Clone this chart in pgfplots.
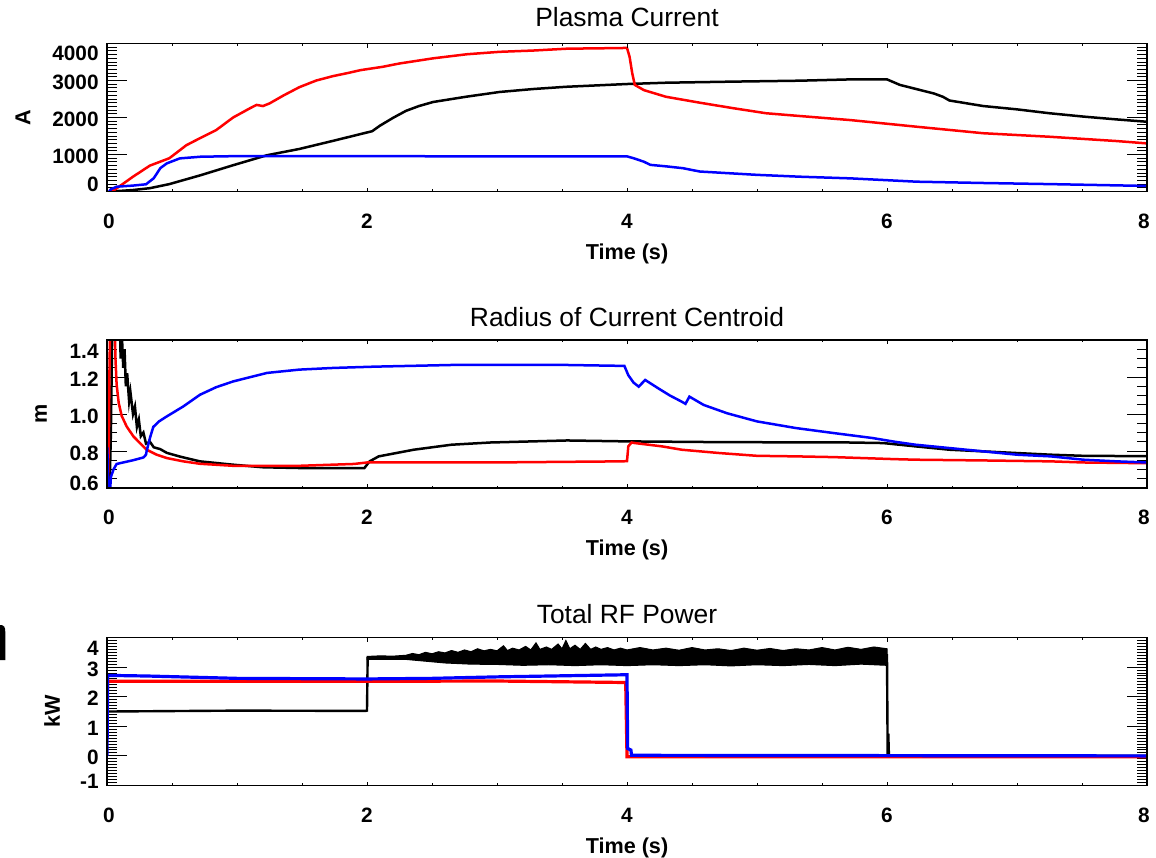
\documentclass[border=0pt]{standalone}
\usepackage{pgfplots}
\pgfplotsset{compat=1.18}
\usepackage{fontspec}
\setmainfont{Liberation Sans}
\newcommand\ticfont{\fontsize{10.4}{12}\selectfont\bfseries}
\newcommand\labfont{\fontsize{10.8}{13}\selectfont\bfseries}
\newcommand\titfont{\fontsize{13.2}{15}\selectfont}

\pgfplotsset{
 idlbase/.style={scale only axis, width=520pt, height=74pt, xmin=0, xmax=8,
   anchor=north west, tick align=inside,
   axis line style={line width=0.6pt},
   every tick/.append style={line width=0.5pt, black},
   /pgf/number format/assume math mode=true,
   /pgf/number format/1000 sep={}},
 idly/.style={idlbase, xtick=\empty, major tick length=10pt, minor tick length=5pt,
   yticklabel pos=left,
   yticklabel style={anchor=east, inner sep=0pt, xshift=-4pt, font=\ticfont},
   every axis y label/.style={at={(axis description cs:#1,0.5)}, rotate=90, anchor=center, font=\labfont},
   every axis title/.style={at={(axis description cs:0.5,1)}, anchor=base, font=\titfont}},
 idlx/.style={idlbase, ytick=\empty, ymin=0, ymax=1, xtick={0,2,4,6,8}, minor x tick num=3,
   major tick length=2pt, minor tick length=1.2pt, xticklabel pos=bottom,
   xticklabel style={anchor=north, inner sep=0pt, yshift=-11pt, font=\ticfont},
   xticklabel={\ifcase\ticknum\relax\def\xs{2pt}\or\def\xs{0pt}\or\def\xs{0pt}\or\def\xs{0pt}\or\def\xs{-3pt}\else\def\xs{0pt}\fi\makebox[0pt]{\hspace*{\xs}\pgfmathprintnumber{\tick}}},
   xlabel={Time (s)},
   every axis x label/.style={at={(axis description cs:0.5,0)}, anchor=center, yshift=-31pt, font=\labfont}},
}

\begin{document}
\begin{tikzpicture}
\useasboundingbox (0pt,0pt) rectangle (578pt,-428.5pt);
\fill[white] (0pt,0pt) rectangle (578pt,-428.5pt);

% ---------------- Panel 1: Plasma Current ----------------
\begin{axis}[idly=-0.0808, at={(53.5pt,-21.75pt)},
  ymin=0, ymax=4000, ytick={0,1000,2000,3000,4000}, minor y tick num=9,
  yticklabel={\ifcase\ticknum\relax\def\ys{0pt}\or\def\ys{-4.25pt}\or\def\ys{-4.25pt}\or\def\ys{-4.25pt}\or\def\ys{-8.5pt}\else\def\ys{-4.25pt}\fi\smash{\raisebox{\ys}{\pgfmathprintnumber{\tick}}}},
  ylabel={A}, title={Plasma Current}, title style={yshift=8.4pt}]
\addplot[black, line width=1.25pt] coordinates {
(0,-50) (0.03,0) (0.2,40) (0.33,90) (0.48,200) (0.72,440) (0.97,710) (1.23,980)
(1.48,1150) (1.74,1370) (2.04,1630) (2.1,1780) (2.2,1990) (2.3,2180) (2.4,2310)
(2.51,2420) (2.76,2560) (3.02,2690) (3.28,2770) (3.53,2830) (4.0,2905) (4.3,2940)
(4.82,2970) (5.33,2995) (5.72,3030) (6.0,3030) (6.1,2880) (6.36,2650) (6.43,2560)
(6.48,2460) (6.74,2310) (7.0,2220) (7.25,2115) (7.51,2025) (7.76,1950) (8.0,1885)};
\addplot[red, line width=1.25pt] coordinates {
(0,-60) (0.04,0) (0.1,150) (0.2,400) (0.33,700) (0.48,900) (0.61,1250) (0.72,1450)
(0.84,1660) (0.97,2000) (1.1,2250) (1.15,2340) (1.2,2310) (1.25,2380) (1.36,2600)
(1.48,2820) (1.61,3000) (1.74,3120) (1.85,3200) (1.95,3280) (2.12,3370) (2.25,3460)
(2.51,3600) (2.77,3710) (3.02,3775) (3.28,3810) (3.54,3860) (3.79,3870) (4.0,3880)
(4.02,3640) (4.04,3200) (4.06,2880) (4.13,2740) (4.3,2560) (4.56,2400) (4.82,2250)
(5.07,2115) (5.33,2040) (5.72,1930) (6.23,1750) (6.74,1575) (7.25,1480) (7.76,1365) (8.0,1300)};
\addplot[blue, line width=1.25pt] coordinates {
(0,-80) (0.03,60) (0.075,130) (0.2,160) (0.3,195) (0.36,360) (0.41,630) (0.46,760)
(0.56,895) (0.72,940) (0.97,955) (2,955) (3,950) (4.0,950) (4.05,900) (4.13,805)
(4.18,720) (4.3,680) (4.43,630) (4.56,540) (5.0,450) (5.33,400) (5.72,355) (6.23,265)
(6.74,230) (7.25,200) (8.0,150)};
\end{axis}
\begin{axis}[idlx, at={(53.5pt,-21.75pt)}]
\end{axis}

% ---------------- Panel 2: Radius ----------------
\begin{axis}[idly=-0.0635, at={(53.5pt,-170pt)},
  ymin=0.6, ymax=1.4, ytick={0.6,0.8,1.0,1.2,1.4}, minor y tick num=3,
  /pgf/number format/fixed, /pgf/number format/fixed zerofill, /pgf/number format/precision=1,
  yticklabel={\ifcase\ticknum\relax\def\ys{-1.1pt}\or\def\ys{-4.75pt}\or\def\ys{-4.75pt}\or\def\ys{-4.75pt}\or\def\ys{-9.25pt}\else\def\ys{-4.75pt}\fi\smash{\raisebox{\ys}{\pgfmathprintnumber{\tick}}}},
  ylabel={m}, title={Radius of Current Centroid}, title style={yshift=7pt}]
\addplot[black, line width=1.25pt] coordinates {
(0,0.6) (0.02,0.6) (0.03,0.9) (0.04,1.45) (0.1,1.45) (0.105,1.3) (0.115,1.42)
(0.125,1.25) (0.135,1.35) (0.145,1.15) (0.155,1.22) (0.17,1.07) (0.18,1.12)
(0.2,1.0) (0.215,1.04) (0.23,0.93) (0.245,0.97) (0.26,0.88) (0.28,0.9) (0.3,0.84)
(0.33,0.85) (0.36,0.82) (0.41,0.81) (0.46,0.79) (0.56,0.77) (0.715,0.744) (0.97,0.726)
(1.2,0.712) (1.48,0.708) (1.98,0.708) (2.02,0.744) (2.09,0.771) (2.36,0.807)
(2.65,0.834) (2.95,0.846) (3.54,0.857) (4.0,0.852) (4.71,0.848) (5.71,0.846)
(5.97,0.843) (6.22,0.825) (6.48,0.807) (6.74,0.798) (7.0,0.789) (7.26,0.78)
(7.51,0.774) (8.0,0.772)};
\addplot[red, line width=1.25pt] coordinates {
(0,0.78) (0.008,0.62) (0.015,0.9) (0.02,1.3) (0.025,1.45) (0.06,1.45) (0.065,1.3)
(0.074,1.16) (0.09,1.06) (0.113,0.99) (0.151,0.933) (0.203,0.879) (0.254,0.843)
(0.305,0.807) (0.382,0.78) (0.46,0.762) (0.587,0.744) (0.715,0.731) (0.97,0.72)
(1.48,0.72) (1.9,0.73) (2.0,0.738) (2.95,0.738) (3.95,0.744) (4.0,0.745) (4.01,0.825)
(4.035,0.846) (4.06,0.843) (4.27,0.825) (4.42,0.807) (4.71,0.789) (5.0,0.774)
(5.3,0.771) (5.59,0.767) (6.06,0.756) (6.22,0.753) (6.74,0.749) (7.26,0.744)
(7.51,0.738) (8.0,0.734)};
\addplot[blue, line width=1.25pt] coordinates {
(0,0.6) (0.003,0.82) (0.008,0.6) (0.025,0.6) (0.03,0.66) (0.05,0.7) (0.074,0.73)
(0.2,0.75) (0.28,0.765) (0.3,0.78) (0.305,0.8) (0.33,0.87) (0.356,0.93) (0.4,0.96)
(0.46,0.987) (0.587,1.041) (0.715,1.104) (0.84,1.145) (0.97,1.176) (1.23,1.222)
(1.48,1.24) (1.74,1.249) (2.06,1.256) (2.65,1.265) (3.54,1.265) (3.98,1.26)
(4.01,1.21) (4.05,1.17) (4.09,1.148) (4.14,1.184) (4.24,1.139) (4.33,1.1)
(4.42,1.067) (4.45,1.055) (4.48,1.094) (4.59,1.049) (4.77,1.004) (5.0,0.96)
(5.3,0.924) (5.59,0.897) (5.89,0.87) (6.06,0.85) (6.22,0.834) (6.48,0.816)
(6.74,0.798) (7.0,0.78) (7.26,0.771) (7.51,0.753) (7.77,0.744) (8.0,0.738)};
\end{axis}
\begin{axis}[idlx, at={(53.5pt,-170pt)}]
\end{axis}

% ---------------- Panel 3: RF Power ----------------
\begin{axis}[idly=-0.0529, at={(53.5pt,-318.75pt)},
  ymin=-1, ymax=4, ytick={-1,0,1,2,3,4}, minor y tick num=9,
  yticklabel={\ifcase\ticknum\relax\def\ys{-1.25pt}\or\def\ys{-4.5pt}\or\def\ys{-4.5pt}\or\def\ys{-4.5pt}\or\def\ys{-4.5pt}\or\def\ys{-8.75pt}\else\def\ys{-4.5pt}\fi\smash{\raisebox{\ys}{\pgfmathprintnumber{\tick}}}},
  ylabel={kW}, title={Total RF Power}, title style={yshift=7.25pt}]
\addplot[black, line width=1.2pt] coordinates {
(0,1.48) (0.01,1.5) (1,1.53) (1.99,1.52) (2.0,1.53) (2.005,3.3) (2.3,3.32)
(5.99,3.4) (6.0,3.4) (6.005,0.0) (6.01,0.75) (6.015,0) (8,0)};
\addplot[black, fill=black, line width=0.5pt] coordinates {
(2.0,3.36) (2.1,3.38) (2.2,3.37) (2.3,3.4) (2.35,3.46) (2.4,3.42) (2.45,3.5) (2.5,3.45)
(2.55,3.52) (2.6,3.48) (2.65,3.56) (2.7,3.5) (2.75,3.58) (2.8,3.52) (2.85,3.62)
(2.9,3.55) (2.95,3.6) (3.0,3.55) (3.05,3.72) (3.08,3.56) (3.12,3.64) (3.17,3.58)
(3.22,3.7) (3.26,3.58) (3.3,3.82) (3.33,3.6) (3.38,3.68) (3.42,3.6) (3.47,3.78)
(3.5,3.62) (3.53,3.9) (3.56,3.62) (3.6,3.74) (3.64,3.6) (3.68,3.8) (3.72,3.6)
(3.76,3.68) (3.8,3.6) (3.85,3.66) (3.9,3.58) (3.95,3.64) (4.0,3.58) (4.1,3.66)
(4.2,3.58) (4.3,3.64) (4.4,3.57) (4.5,3.66) (4.6,3.58) (4.7,3.62) (4.8,3.56)
(4.9,3.64) (5.0,3.57) (5.1,3.63) (5.2,3.56) (5.3,3.62) (5.4,3.58) (5.5,3.66)
(5.6,3.58) (5.7,3.67) (5.8,3.6) (5.9,3.68) (6.0,3.62)
(6.0,3.06) (5.8,3.1) (5.6,3.05) (5.4,3.09) (5.2,3.05) (5.0,3.08) (4.8,3.04)
(4.6,3.08) (4.4,3.05) (4.2,3.08) (4.0,3.05) (3.8,3.08) (3.6,3.05) (3.4,3.08)
(3.2,3.06) (3.0,3.09) (2.8,3.1) (2.6,3.14) (2.45,3.2) (2.3,3.26) (2.0,3.26)} -- cycle;
\addplot[red, line width=1.6pt] coordinates {
(0,1.7) (0.005,2.52) (1,2.52) (2,2.52) (3,2.53) (3.99,2.48) (4.0,-0.03) (8,-0.03)};
\addplot[blue, line width=1.6pt] coordinates {
(0,0) (0.005,2.72) (0.3,2.7) (1,2.62) (2,2.6) (2.5,2.62) (3,2.67) (3.97,2.74)
(4.0,2.74) (4.005,0.25) (4.03,0.2) (4.035,0.02) (8,0.0)};
\end{axis}
\begin{axis}[idlx, at={(53.5pt,-318.75pt)}]
\end{axis}

% clipped glyph at left edge
\fill[black] (-5pt,-330pt) -- (-5pt,-312.5pt) -- (0.25pt,-312.5pt) .. controls (2pt,-312.5pt) and (2.65pt,-313.5pt) .. (2.65pt,-316pt) -- (2.65pt,-330pt) -- cycle;
\end{tikzpicture}
\end{document}
